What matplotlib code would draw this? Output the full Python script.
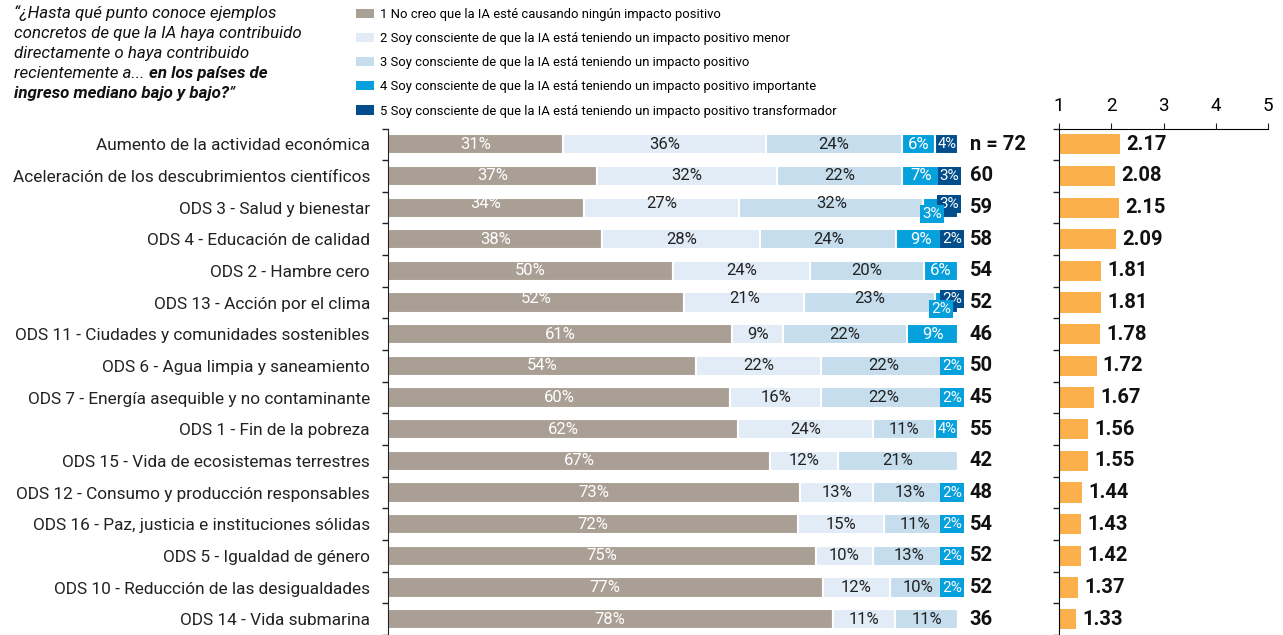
import numpy as np
import matplotlib.pyplot as plt
from matplotlib.patches import Patch
from matplotlib.ticker import FixedLocator, NullFormatter

plt.rcParams['font.family'] = ['Roboto', 'DejaVu Sans']

categories = [
    'Aumento de la actividad económica',
    'Aceleración de los descubrimientos científicos',
    'ODS 3 - Salud y bienestar',
    'ODS 4 - Educación de calidad',
    'ODS 2 - Hambre cero',
    'ODS 13 - Acción por el clima',
    'ODS 11 - Ciudades y comunidades sostenibles',
    'ODS 6 - Agua limpia y saneamiento',
    'ODS 7 - Energía asequible y no contaminante',
    'ODS 1 - Fin de la pobreza',
    'ODS 15 - Vida de ecosistemas terrestres',
    'ODS 12 - Consumo y producción responsables',
    'ODS 16 - Paz, justicia e instituciones sólidas',
    'ODS 5 - Igualdad de género',
    'ODS 10 - Reducción de las desigualdades',
    'ODS 14 - Vida submarina',
]
p1 = [31, 37, 34, 38, 50, 52, 61, 54, 60, 62, 67, 73, 72, 75, 77, 78]
p2 = [36, 32, 27, 28, 24, 21, 9, 22, 16, 24, 12, 13, 15, 10, 12, 11]
p3 = [24, 22, 32, 24, 20, 23, 22, 22, 22, 11, 21, 13, 11, 13, 10, 11]
p4 = [6, 7, 3, 9, 6, 2, 9, 2, 2, 4, 0, 2, 2, 2, 2, 0]
p5 = [4, 3, 3, 2, 0, 2, 0, 0, 0, 0, 0, 0, 0, 0, 0, 0]
n_resp = [72, 60, 59, 58, 54, 52, 46, 50, 45, 55, 42, 48, 54, 52, 52, 36]
means = [2.17, 2.08, 2.15, 2.09, 1.81, 1.81, 1.78, 1.72, 1.67, 1.56, 1.55, 1.44, 1.43, 1.42, 1.37, 1.33]

legend_labels = [
    '1 No creo que la IA esté causando ningún impacto positivo',
    '2 Soy consciente de que la IA está teniendo un impacto positivo menor',
    '3 Soy consciente de que la IA está teniendo un impacto positivo',
    '4 Soy consciente de que la IA está teniendo un impacto positivo importante',
    '5 Soy consciente de que la IA está teniendo un impacto positivo transformador',
]
colors = ['#aa9f95', '#e1ecf6', '#c5dded', '#06a0dc', '#024d8c']
text_colors = ['white', '#222222', '#222222', 'white', 'white']

W, H = 1283, 635
fig = plt.figure(figsize=(W / 100, H / 100), dpi=100)

top = 1 - 128.5 / H
ax = fig.add_axes([388 / W, 0, 570 / W, top])
ax2 = fig.add_axes([1059 / W, 0, 209 / W, top])

y = np.arange(len(categories))
series = np.array([p1, p2, p3, p4, p5], dtype=float)
# rounded shares can add up to 101: scale each row so the stack spans 100
shares = series / series.sum(axis=0) * 100
left = np.zeros(len(categories))
for k in range(len(series)):
    vals = shares[k]
    ax.barh(y, vals, left=left, height=0.64, color=colors[k],
            edgecolor='white', linewidth=1.5, zorder=2)
    for i, v in enumerate(series[k]):
        if v <= 0:
            continue
        cx = left[i] + vals[i] / 2
        cy = y[i]
        # rows where both top categories are tiny: stagger the two labels
        if p4[i] and p5[i] and p4[i] < 4 and p5[i] < 4:
            cy += 0.2 if k == 3 else -0.12
        if v < 4:
            ax.text(cx, cy, f'{int(v)}%', ha='center', va='center', fontsize=11,
                    color=text_colors[k], zorder=5 if k == 3 else 4,
                    bbox=dict(boxstyle='square,pad=0.14', fc=colors[k], ec='none'))
        else:
            ax.text(cx, cy, f'{int(v)}%', ha='center', va='center',
                    fontsize=12 if v >= 5 else 10.5, color=text_colors[k], zorder=4)
    left += vals

for i, nv in enumerate(n_resp):
    lab = f'n = {nv}' if i == 0 else f'{nv}'
    ax.annotate(lab, xy=(100, y[i]), xytext=(8.5, 0), textcoords='offset points',
                ha='left', va='center', fontsize=14.5, fontweight='bold', color='#111111',
                annotation_clip=False)

ax.set_xlim(0, 100)
ax.set_ylim(len(categories) - 0.5, -0.5)
ax.set_yticks(y)
ax.set_yticklabels(categories, fontsize=12.4, color='#222222')
ax.yaxis.set_minor_locator(FixedLocator(np.arange(-0.5, len(categories), 1)))
ax.yaxis.set_minor_formatter(NullFormatter())
ax.tick_params(axis='y', which='major', length=0, pad=13)
ax.tick_params(axis='y', which='minor', length=4, width=1, color='#222222')
ax.set_xticks([])
for s in ['top', 'right', 'bottom']:
    ax.spines[s].set_visible(False)
ax.spines['left'].set_color('#222222')

# mean score panel
ax2.barh(y, np.array(means) - 1, left=1, height=0.64, color='#fbb04b', zorder=2)
for i, m in enumerate(means):
    ax2.annotate(f'{m:.2f}', xy=(m, y[i]), xytext=(4.5, 0), textcoords='offset points',
                 ha='left', va='center', fontsize=14.5, fontweight='bold', color='#111111')
ax2.set_xlim(1, 5)
ax2.set_ylim(len(categories) - 0.5, -0.5)
ax2.xaxis.tick_top()
ax2.set_xticks([1, 2, 3, 4, 5])
ax2.tick_params(axis='x', length=4, pad=6, labelsize=13.5, color='#222222')
ax2.set_yticks([])
ax2.yaxis.set_minor_locator(FixedLocator(np.arange(-0.5, len(categories), 1)))
ax2.yaxis.set_minor_formatter(NullFormatter())
ax2.tick_params(axis='y', which='minor', length=4, width=1, color='#222222')
for s in ['right', 'bottom']:
    ax2.spines[s].set_visible(False)

handles = [Patch(facecolor=c, edgecolor='none') for c in colors]
fig.legend(handles, legend_labels, loc='upper left', bbox_to_anchor=(347 / W, 1 + 1.5 / H),
           frameon=False, fontsize=9.4, handlelength=1.4, handleheight=0.7,
           handletextpad=0.45, labelspacing=0.86, borderpad=0.2)

# question text, italic with a bold tail
fig.canvas.draw()
renderer = fig.canvas.get_renderer()
lines = [
    [('“¿Hasta qué punto conoce ejemplos', 'normal')],
    [('concretos de que la IA haya contribuido', 'normal')],
    [('directamente o haya contribuido', 'normal')],
    [('recientemente a... ', 'normal'), ('en los países de', 'bold')],
    [('ingreso mediano bajo y bajo?', 'bold'), ('”', 'normal')],
]
for li, parts in enumerate(lines):
    x = 14 / W
    yy = 1 - (13 + 20.2 * li) / H
    for txt, wt in parts:
        t = fig.text(x, yy, txt, ha='left', va='center', fontsize=12.2,
                     style='italic', fontweight=wt, color='#111111')
        bb = t.get_window_extent(renderer)
        x += bb.width / W

fig.savefig('out.png', dpi=100)
